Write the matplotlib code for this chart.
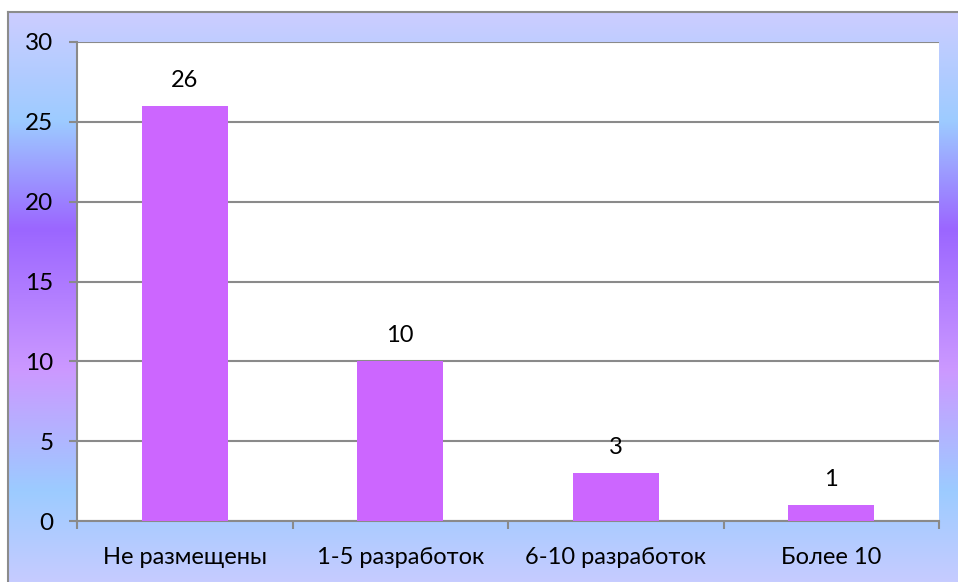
import numpy as np
import matplotlib
matplotlib.use('Agg')
from matplotlib import pyplot as plt
from matplotlib.colors import LinearSegmentedColormap

categories = ['Не размещены', '1-5 разработок', '6-10 разработок', 'Более 10']
values = [26, 10, 3, 1]
y_ticks = [0, 5, 10, 15, 20, 25, 30]

W, H = 958, 582
plt.rcParams['font.family'] = ['Lato', 'DejaVu Sans']

fig = plt.figure(figsize=(W / 100., H / 100.), dpi=100)

# gradient backdrop behind the chart
bg = fig.add_axes([8. / W, 0, 1 - 8. / W, 1 - 12. / H])
stops = [(0.0, '#cccdff'), (0.19, '#9dcbff'), (0.38, '#9b66ff'),
         (0.63, '#cc99ff'), (0.84, '#9ccbff'), (1.0, '#c6ccff')]
cmap = LinearSegmentedColormap.from_list('bg', stops)
bg.imshow(np.linspace(0, 1, 256).reshape(-1, 1), cmap=cmap, aspect='auto',
          extent=[0, 1, 0, 1], origin='upper')
bg.set_xlim(0, 1)
bg.set_ylim(0, 1)
for side in ['right', 'bottom']:
    bg.spines[side].set_visible(False)
for side in ['left', 'top']:
    bg.spines[side].set_color('#8c8c8c')
    bg.spines[side].set_linewidth(1.5)
bg.set_xticks([])
bg.set_yticks([])

ax = fig.add_axes([77. / W, 61. / H, (939. - 77.) / W, (521. - 42.) / H])
ax.set_facecolor('white')
x = np.arange(len(categories))
bars = ax.bar(x, values, width=0.4, color='#cc66ff', zorder=3)
for xi, v in zip(x, values):
    ax.annotate(str(v), (xi, v), xytext=(0, 11), textcoords='offset points',
                ha='center', va='bottom', fontsize=17)

ax.set_ylim(0, 30)
ax.set_xlim(-0.5, len(categories) - 0.5)
ax.set_yticks(y_ticks)
ax.set_yticklabels([str(t) for t in y_ticks], fontsize=17.5)
ax.yaxis.grid(True, color='#8a8a8a', linewidth=1.5, zorder=0)

ax.set_xticks(np.arange(len(categories) + 1) - 0.5)
ax.set_xticklabels([])
ax.set_xticks(x, minor=True)
ax.set_xticklabels(categories, minor=True, fontsize=17)
ax.tick_params(axis='x', which='minor', length=0, pad=19)
ax.tick_params(axis='x', which='major', length=6, width=1.5, color='#8a8a8a')
ax.tick_params(axis='y', length=6, width=1.5, color='#8a8a8a', pad=11)

for side in ['top', 'right']:
    ax.spines[side].set_visible(False)
for side in ['left', 'bottom']:
    ax.spines[side].set_color('#8a8a8a')
    ax.spines[side].set_linewidth(1.5)

fig.savefig('out.png', dpi=100, facecolor='white')
